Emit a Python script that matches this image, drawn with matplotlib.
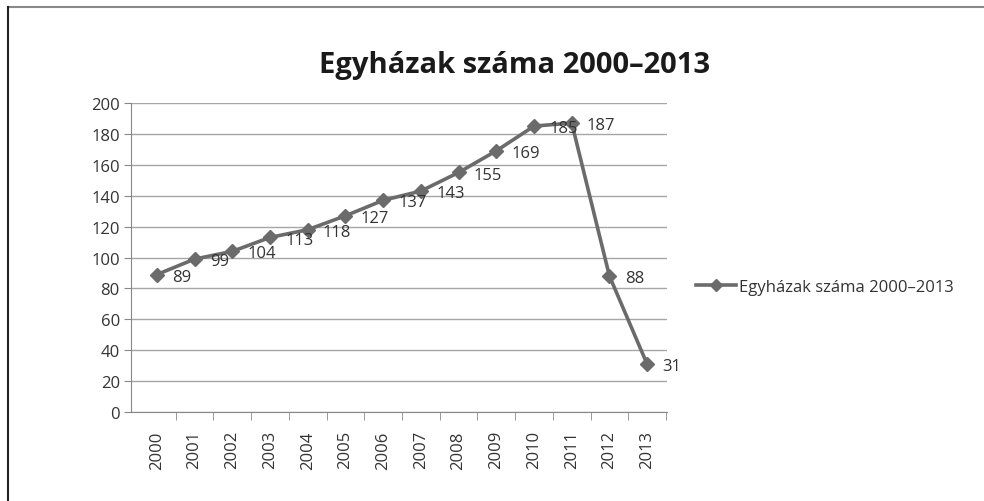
import matplotlib
matplotlib.use("Agg")
import matplotlib.pyplot as plt
from matplotlib.lines import Line2D

years = ["2000", "2001", "2002", "2003", "2004", "2005", "2006",
         "2007", "2008", "2009", "2010", "2011", "2012", "2013"]
counts = [89, 99, 104, 113, 118, 127, 137, 143, 155, 169, 185, 187, 88, 31]
series_name = "Egyházak száma 2000–2013"

plt.rcParams['font.family'] = ['Open Sans', 'DejaVu Sans']

fig = plt.figure(figsize=(9.84, 5.02), dpi=100)
ax = fig.add_axes([0.133, 0.177, 0.545, 0.616])

line_col = "#6b6b6b"
txt_col = "#333333"
x = list(range(len(years)))
ax.plot(x, counts, color=line_col, lw=2.6, marker="D", markersize=7.5,
        label=series_name, zorder=3)

for xi, v in zip(x, counts):
    ax.annotate(str(v), (xi, v), xytext=(11, -1.5), textcoords="offset points",
                ha="left", va="center", fontsize=12, color=txt_col)

ax.set_xlim(-0.69, len(years) - 0.47)
ax.set_ylim(0, 200)
ax.set_yticks(range(0, 201, 20))
ax.set_xticks(x)
ax.set_xticklabels(years, rotation=90, fontsize=12, color=txt_col)
ax.set_xticks([i - 0.5 for i in range(1, len(years) + 1)], minor=True)
ax.tick_params(axis="x", which="major", length=0, pad=13)
ax.tick_params(axis="x", which="minor", length=6, color="#888888", direction="out")
ax.tick_params(axis="y", length=5, color="#888888", labelsize=12,
               labelcolor=txt_col, pad=3)
ax.yaxis.grid(True, color="#a6a6a6", lw=1)
ax.set_axisbelow(True)
for s in ["top", "right"]:
    ax.spines[s].set_visible(False)
for s in ["left", "bottom"]:
    ax.spines[s].set_color("#888888")

fig.text(0.523, 0.87, series_name, ha="center", va="center",
         fontsize=21, fontweight="bold", color="#1a1a1a")

handle = Line2D([], [], color=line_col, lw=2.6, marker="D", markersize=6)
fig.legend([handle], [series_name], loc="center left",
           bbox_to_anchor=(0.692, 0.426), frameon=False, fontsize=12,
           handlelength=2.4, handletextpad=0.2, labelcolor=txt_col)

# frame lines (top and left) of the screenshot
fig.add_artist(Line2D([0.008, 1.0], [0.985, 0.985], transform=fig.transFigure,
                      color="#888888", lw=1.5))
fig.add_artist(Line2D([0.0085, 0.0085], [0.0, 0.985], transform=fig.transFigure,
                      color="#222222", lw=1.5))

fig.savefig("out.png", dpi=100)
